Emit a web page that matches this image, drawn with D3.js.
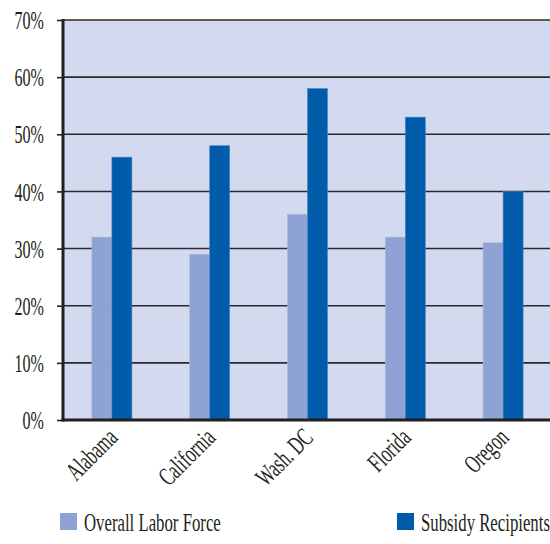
<!DOCTYPE html>
<html>
<head>
<meta charset="utf-8">
<script src="https://cdn.jsdelivr.net/npm/d3@7"></script>
<style>
  html, body { margin: 0; padding: 0; background: #ffffff; }
  svg { display: block; }
  text { font-family: "Liberation Serif", "DejaVu Serif", serif; fill: #231f20; }
</style>
</head>
<body>
<svg id="chart" width="550" height="544"></svg>
<script>
// Share of workers, by state
const states = ["Alabama", "California", "Wash. DC", "Florida", "Oregon"];
const laborForce = [32, 29, 36, 32, 31];
const subsidyRecipients = [46, 48, 58, 53, 40];
const yTicks = [0, 10, 20, 30, 40, 50, 60, 70];
const seriesNames = ["Overall Labor Force", "Subsidy Recipients"];
const seriesColors = ["#8fa2d4", "#005bab"];

const svg = d3.select("#chart");
const plot = { left: 63, right: 552, top: 20, bottom: 420 };
const fontSize = 26;
const squeeze = 0.645; // condensed lettering

const x = d3.scaleBand().domain(states).range([plot.left, plot.right]).padding(0);
const y = d3.scaleLinear().domain([0, 70]).range([plot.bottom, plot.top]);
const barW = 20;

// plot background
svg.append("rect")
  .attr("x", plot.left).attr("y", plot.top)
  .attr("width", 550 - plot.left).attr("height", plot.bottom - plot.top)
  .attr("fill", "#d3d9ee");

// gridlines
svg.append("g").selectAll("line").data(yTicks.filter(d => d > 0)).join("line")
  .attr("x1", plot.left).attr("x2", 550)
  .attr("y1", d => y(d)).attr("y2", d => y(d))
  .attr("stroke", "#2a2a2e").attr("stroke-width", 1.6);

// bars
const groups = svg.append("g").selectAll("g").data(states).join("g")
  .attr("transform", d => `translate(${x(d) + x.bandwidth() / 2},0)`);

groups.append("rect")
  .attr("x", -barW).attr("width", barW)
  .attr("y", (d, i) => y(laborForce[i]))
  .attr("height", (d, i) => y(0) - y(laborForce[i]))
  .attr("fill", seriesColors[0])
  .attr("stroke", "#a9b7df").attr("stroke-width", 0.6);

groups.append("rect")
  .attr("x", 0).attr("width", barW)
  .attr("y", (d, i) => y(subsidyRecipients[i]))
  .attr("height", (d, i) => y(0) - y(subsidyRecipients[i]))
  .attr("fill", seriesColors[1])
  .attr("stroke", "#4a86c6").attr("stroke-width", 0.6);

// y axis
const yAxis = d3.axisLeft(y).tickValues(yTicks).tickFormat(d => d + "%").tickSize(6).tickPadding(0);
const yg = svg.append("g").attr("transform", `translate(${plot.left},0)`).call(yAxis);
yg.select(".domain").remove();
yg.selectAll(".tick line").attr("stroke", "#231f20").attr("stroke-width", 1.6);
yg.selectAll(".tick text")
  .attr("x", 0).attr("dy", "0.33em")
  .attr("font-size", fontSize)
  .attr("text-anchor", "end")
  .attr("transform", `translate(-19,0) scale(${squeeze * 0.96},1)`);

// axis frame lines
svg.append("line")
  .attr("x1", plot.left).attr("x2", plot.left)
  .attr("y1", plot.top - 1).attr("y2", plot.bottom + 1.5)
  .attr("stroke", "#231f20").attr("stroke-width", 3);
svg.append("line")
  .attr("x1", plot.left - 1.5).attr("x2", 550)
  .attr("y1", plot.bottom).attr("y2", plot.bottom)
  .attr("stroke", "#231f20").attr("stroke-width", 3);

// x axis labels
const xAxis = d3.axisBottom(x).tickSize(0).tickPadding(0);
const xg = svg.append("g").attr("transform", `translate(0,${plot.bottom})`).call(xAxis);
xg.select(".domain").remove();
xg.selectAll(".tick text")
  .attr("y", 0).attr("dy", 0)
  .attr("font-size", fontSize)
  .attr("text-anchor", "end")
  .attr("transform", `translate(7,19) rotate(-45) scale(${squeeze},1)`);

// legend
const legend = svg.append("g").selectAll("g").data(seriesNames).join("g")
  .attr("transform", (d, i) => `translate(${i === 0 ? 60 : 397},513)`);
legend.append("rect")
  .attr("width", 17).attr("height", 17)
  .attr("fill", (d, i) => seriesColors[i]);
legend.append("text")
  .attr("font-size", fontSize)
  .attr("transform", `translate(24,17.5) scale(${squeeze},1)`)
  .text(d => d);
</script>
</body>
</html>
